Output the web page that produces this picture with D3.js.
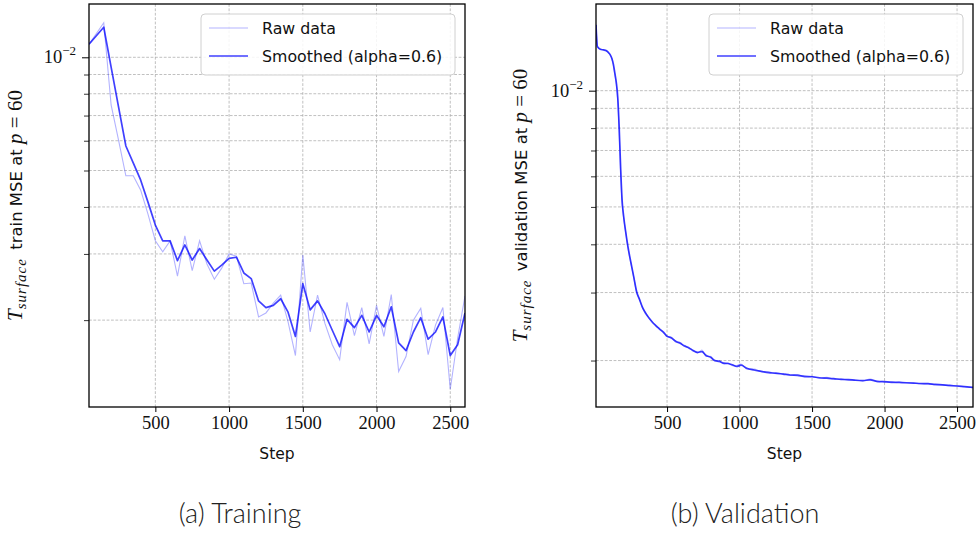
<!DOCTYPE html>
<html><head><meta charset="utf-8">
<script src="https://cdn.jsdelivr.net/npm/d3@7"></script>
<style>
body{margin:0;background:#fff;}
svg{display:block;}
</style></head>
<body>
<svg id="chart" width="979" height="534"></svg>
<script>
// ---------- DATA ----------
const trainSteps = [50,100,150,200,250,300,350,400,450,500,550,600,650,700,750,800,850,900,950,1000,1050,1100,1150,1200,1250,1300,1350,1400,1450,1500,1550,1600,1650,1700,1750,1800,1850,1900,1950,2000,2050,2100,2150,2200,2250,2300,2350,2400,2450,2500,2550,2600];
const trainRaw = [0.01083,0.01157,0.01236,0.00747,0.00603,0.00484,0.00484,0.00444,0.00383,0.00325,0.00304,0.00325,0.00262,0.00335,0.00271,0.00325,0.00282,0.00257,0.00275,0.00300,0.00296,0.00250,0.00251,0.00204,0.00209,0.00222,0.00233,0.00198,0.00161,0.00298,0.00186,0.00233,0.00196,0.00172,0.00157,0.00223,0.00182,0.00216,0.00173,0.00219,0.00181,0.00234,0.00146,0.00160,0.00200,0.00215,0.00162,0.00194,0.00216,0.00131,0.00179,0.00232];
const trainSmooth = [0.01083,0.01141,0.01202,0.00942,0.00739,0.00581,0.00524,0.00472,0.00412,0.00358,0.00325,0.00325,0.00288,0.00317,0.00289,0.00310,0.00289,0.00270,0.00280,0.00292,0.00294,0.00267,0.00258,0.00225,0.00216,0.00219,0.00228,0.00210,0.00181,0.00250,0.00213,0.00225,0.00208,0.00188,0.00170,0.00201,0.00191,0.00206,0.00186,0.00206,0.00192,0.00217,0.00174,0.00166,0.00186,0.00203,0.00178,0.00186,0.00204,0.00161,0.00172,0.00209];

const valSteps = [10,20,40,60,80,100,110,120,130,140,150,160,170,180,190,200,215,230,250,270,290,310,330,350,375,400,425,450,475,500,530,560,590,620,650,680,710,740,770,800,830,860,890,920,950,980,1010,1050,1100,1150,1200,1250,1300,1350,1400,1450,1500,1550,1600,1650,1700,1750,1800,1850,1900,1950,2000,2050,2100,2150,2200,2250,2300,2350,2400,2450,2500,2550,2610];
const valSmooth = [0.0148,0.0130,0.0128,0.01275,0.0127,0.0125,0.01235,0.0121,0.0117,0.0111,0.0105,0.0096,0.0080,0.0063,0.0052,0.00475,0.0043,0.00395,0.0036,0.0033,0.00302,0.00288,0.00275,0.00266,0.00258,0.00251,0.00246,0.00241,0.00237,0.00231,0.00229,0.00224,0.00222,0.00218,0.00216,0.00212,0.00210,0.00211,0.00206,0.00204,0.00200,0.00199,0.00197,0.001965,0.00195,0.00193,0.001945,0.00191,0.00189,0.001875,0.00186,0.001855,0.001845,0.001835,0.00183,0.00182,0.001816,0.001805,0.00180,0.001795,0.001787,0.001785,0.001778,0.001775,0.001782,0.001766,0.001762,0.001758,0.001755,0.001752,0.001748,0.001744,0.001742,0.001735,0.001730,0.001724,0.001718,0.001712,0.001705];
const valRaw = [0.0149,0.0130,0.0128,0.01278,0.0127,0.0125,0.01233,0.0121,0.0116,0.0110,0.0104,0.0094,0.0078,0.0061,0.0051,0.00470,0.0043,0.00392,0.00358,0.00329,0.00300,0.00288,0.00274,0.00267,0.00257,0.00252,0.00245,0.00242,0.00236,0.00232,0.00228,0.00225,0.00221,0.00219,0.00215,0.00213,0.00209,0.00213,0.00205,0.00205,0.00199,0.00200,0.00196,0.00197,0.00194,0.00194,0.00196,0.00190,0.00190,0.00187,0.00187,0.00185,0.00185,0.00183,0.00184,0.00181,0.00182,0.00180,0.00181,0.00179,0.00179,0.00178,0.00178,0.00177,0.00179,0.00176,0.00177,0.00175,0.00176,0.00175,0.00175,0.00174,0.00174,0.00173,0.00173,0.00172,0.00172,0.00171,0.00170];

const xTickValues = [500,1000,1500,2000,2500];
const yMajorTicks = [0.01];
const yMinorTicks = [0.002,0.003,0.004,0.005,0.006,0.007,0.008,0.009];
const legendLabels = ["Raw data","Smoothed (alpha=0.6)"];
const captions = ["(a) Training","(b) Validation"];
const yLabelMiddle = ["train MSE at","validation MSE at"];

// ---------- DRAW ----------
const svg = d3.select("#chart");
const serif = "'Liberation Serif','DejaVu Serif',serif";
const sans = "'DejaVu Sans','Noto Sans',sans-serif";

function panel(cfg){
  const {x0,x1,y0,y1,xDomain,yDomain,steps,raw,smooth,id,legendX,ylabelX,ylabelMid,caption,capX,curve} = cfg;
  const x = d3.scaleLinear().domain(xDomain).range([x0,x1]);
  const y = d3.scaleLog().domain(yDomain).range([y1,y0]);
  const g = svg.append("g");

  // grid
  const gridStyle = s => s.attr("stroke","#b0b0b0").attr("stroke-width",0.8).attr("stroke-dasharray","2.8,1.6");
  g.selectAll(".gx").data(xTickValues).join("line")
    .attr("x1",d=>x(d)).attr("x2",d=>x(d)).attr("y1",y0).attr("y2",y1).call(gridStyle);
  g.selectAll(".gy").data(yMajorTicks.concat(yMinorTicks)).join("line")
    .attr("x1",x0).attr("x2",x1).attr("y1",d=>y(d)).attr("y2",d=>y(d)).call(gridStyle);

  // clip
  svg.append("clipPath").attr("id","clip"+id).append("rect")
    .attr("x",x0).attr("y",y0).attr("width",x1-x0).attr("height",y1-y0);

  const line = d3.line().x((d,i)=>x(steps[i])).y(d=>y(d)).curve(curve);
  g.append("path").attr("d",line(raw)).attr("fill","none")
    .attr("stroke","#0000ff").attr("stroke-opacity",0.3).attr("stroke-width",1.1)
    .attr("clip-path","url(#clip"+id+")");
  g.append("path").attr("d",line(smooth)).attr("fill","none")
    .attr("stroke","#0000ff").attr("stroke-opacity",0.75).attr("stroke-width",1.7)
    .attr("stroke-linejoin","round")
    .attr("clip-path","url(#clip"+id+")");

  // axes
  const xAxis = d3.axisBottom(x).tickValues(xTickValues).tickSize(5).tickPadding(4).tickFormat(d3.format("d"));
  const ax = g.append("g").attr("transform",`translate(0,${y1})`).call(xAxis);
  ax.select(".domain").remove();
  ax.selectAll("line").attr("stroke","#000").attr("stroke-width",1);
  ax.selectAll("text").attr("font-family",serif).attr("font-size",18.5).attr("fill","#111");

  const yMinor = d3.axisLeft(y).tickValues(yMinorTicks).tickSize(5).tickFormat("");
  const ay = g.append("g").attr("transform",`translate(${x0},0)`).call(yMinor);
  ay.select(".domain").remove();
  ay.selectAll("line").attr("stroke","#000").attr("stroke-width",0.8);
  const yMaj = d3.axisLeft(y).tickValues(yMajorTicks).tickSize(7).tickFormat("");
  const ay2 = g.append("g").attr("transform",`translate(${x0},0)`).call(yMaj);
  ay2.select(".domain").remove();
  ay2.selectAll("line").attr("stroke","#000").attr("stroke-width",1);
  yMajorTicks.forEach(v=>{
    const t = g.append("text").attr("x",x0-13).attr("y",y(v)+6).attr("text-anchor","end")
      .attr("font-family",serif).attr("font-size",18.5).attr("fill","#111");
    t.append("tspan").text("10");
    t.append("tspan").attr("dy",-8).attr("font-size",13).text("−2");
  });

  // frame
  g.append("rect").attr("x",x0).attr("y",y0).attr("width",x1-x0).attr("height",y1-y0)
    .attr("fill","none").attr("stroke","#000").attr("stroke-width",1.3);

  // x label
  g.append("text").attr("x",(x0+x1)/2).attr("y",y1+52).attr("text-anchor","middle")
    .attr("font-family",sans).attr("font-size",15.5).attr("fill","#111").text("Step");

  // y label
  const yl = g.append("text").attr("transform",`translate(${ylabelX},${(y0+y1)/2}) rotate(-90)`)
    .attr("text-anchor","middle").attr("fill","#111").attr("font-size",16);
  yl.append("tspan").attr("font-family",serif).attr("font-style","italic").attr("font-size",21).text("T");
  yl.append("tspan").attr("font-family",serif).attr("font-style","italic").attr("font-size",15)
    .attr("letter-spacing",1).attr("dy",4).text("surface");
  yl.append("tspan").attr("font-family",sans).attr("font-size",16.5).attr("dy",-4).text("\u2002"+ylabelMid+" ");
  yl.append("tspan").attr("font-family",serif).attr("font-style","italic").attr("font-size",21).text("p");
  yl.append("tspan").attr("font-family",serif).attr("font-size",21).text(" = 60");

  // legend
  const lg = g.append("g");
  lg.append("rect").attr("x",legendX).attr("y",14).attr("width",254).attr("height",61).attr("rx",4)
    .attr("fill","#fff").attr("fill-opacity",0.85).attr("stroke","#d0d0d0").attr("stroke-width",1);
  [[28,0.3,1.1],[56,0.75,1.7]].forEach((s,i)=>{
    lg.append("line").attr("x1",legendX+8).attr("x2",legendX+47).attr("y1",s[0]).attr("y2",s[0])
      .attr("stroke","#0000ff").attr("stroke-opacity",s[1]).attr("stroke-width",s[2]);
    lg.append("text").attr("x",legendX+61).attr("y",s[0]+6).attr("font-family",sans)
      .attr("font-size",15.8).attr("fill","#111").text(legendLabels[i]);
  });

  // caption
  svg.append("text").attr("x",capX).attr("y",523).attr("text-anchor","middle")
    .attr("font-family","Lato, 'Open Sans', sans-serif").attr("font-weight",300)
    .attr("font-size",27).attr("fill","#222").text(caption);
}

panel({id:"a",x0:89,x1:465,y0:4,y1:407,xDomain:[50,2600],yDomain:[0.001175,0.01386],
  steps:trainSteps,raw:trainRaw,smooth:trainSmooth,legendX:201,ylabelX:22,ylabelMid:yLabelMiddle[0],
  caption:captions[0],capX:240,curve:d3.curveLinear});
panel({id:"b",x0:596,x1:973,y0:4,y1:407,xDomain:[10,2610],yDomain:[0.001516,0.01677],
  steps:valSteps,raw:valRaw,smooth:valSmooth,legendX:709,ylabelX:527,ylabelMid:yLabelMiddle[1],
  caption:captions[1],capX:745,curve:d3.curveMonotoneX});
</script>
</body></html>
